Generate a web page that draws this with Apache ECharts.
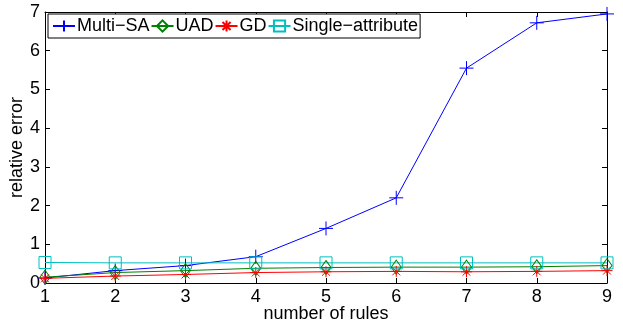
<!DOCTYPE html>
<html>
<head>
<meta charset="utf-8">
<script src="https://cdn.jsdelivr.net/npm/echarts@6/dist/echarts.min.js"></script>
<style>
  html, body { margin: 0; padding: 0; background: #fff; }
  #chart { width: 623px; height: 325px; }
</style>
</head>
<body>
<div id="chart"></div>
<script>
// rule counts on the x axis
let rules = [1, 2, 3, 4, 5, 6, 7, 8, 9];
let yTicks = [0, 1, 2, 3, 4, 5, 6, 7];

// relative error per method
let multiSA = [0.13, 0.32, 0.45, 0.68, 1.41, 2.2, 5.55, 6.72, 6.95];
let uad = [0.15, 0.27, 0.32, 0.38, 0.40, 0.41, 0.41, 0.42, 0.45];
let gd = [0.12, 0.18, 0.22, 0.27, 0.29, 0.30, 0.29, 0.30, 0.32];
let single = [0.53, 0.52, 0.52, 0.52, 0.52, 0.52, 0.52, 0.52, 0.52];

const FONT = 'Liberation Sans';

const plus = 'path://M0,-1L0,1M-1,0L1,0';
const star = 'path://M0,-1L0,1M-1,0L1,0M-0.72,-0.72L0.72,0.72M-0.72,0.72L0.72,-0.72';
const diamond = 'path://M0,-1L0.75,0L0,1L-0.75,0Z';
const square = 'path://M-1,-1L1,-1L1,1L-1,1Z';

function pairs(vals){
    return vals.map((v, i) => [rules[i], v]);
}

function makeSeries(name, vals, color, symbol, size){
    return {
        name: name,
        type: 'line',
        data: pairs(vals),
        symbol: symbol,
        symbolSize: size,
        showAllSymbol: true,
        animation: false,
        lineStyle: { color: color, width: 1 },
        itemStyle: { color: 'none', borderColor: color, borderWidth: 1 },
        emphasis: { disabled: true }
    };
}

let axisLine = { show: true, onZero: false, lineStyle: { color: '#000', width: 1 } };
let tickIn = { show: true, inside: true, length: 5, lineStyle: { color: '#000' } };
let labelStyle = { color: '#000', fontFamily: FONT, fontSize: 18 };

let chart = echarts.init(document.getElementById('chart'));
chart.setOption({
    backgroundColor: '#fff',
    animation: false,
    grid: { left: 45, right: 16, top: 12, bottom: 42, outerBoundsMode: 'none', containLabel: false },
    legend: {
        left: 48,
        top: 14,
        orient: 'horizontal',
        itemWidth: 22,
        itemHeight: 14,
        itemGap: 1,
        padding: [3, 2, 3, 4],
        borderColor: '#000',
        borderWidth: 1,
        backgroundColor: '#fff',
        textStyle: { color: '#000', fontFamily: FONT, fontSize: 18, padding: [0, 0, 0, -3] },
        data: ['Multi\u2212SA', 'UAD', 'GD', 'Single\u2212attribute']
    },
    xAxis: [{
        type: 'value',
        min: rules[0],
        max: rules[rules.length - 1],
        interval: 1,
        name: 'number of rules',
        nameLocation: 'middle',
        nameGap: 22,
        nameMoveOverlap: false,
        nameTextStyle: labelStyle,
        axisLine: axisLine,
        axisTick: tickIn,
        axisLabel: Object.assign({ margin: 5 }, labelStyle),
        splitLine: { show: false }
    }, {
        type: 'value',
        position: 'top',
        min: rules[0],
        max: rules[rules.length - 1],
        interval: 1,
        axisLine: axisLine,
        axisTick: tickIn,
        axisLabel: { show: false },
        splitLine: { show: false }
    }],
    yAxis: [{
        type: 'value',
        min: yTicks[0],
        max: yTicks[yTicks.length - 1],
        interval: 1,
        name: 'relative error',
        nameLocation: 'middle',
        nameGap: 19,
        nameMoveOverlap: false,
        nameTextStyle: labelStyle,
        axisLine: axisLine,
        axisTick: tickIn,
        axisLabel: Object.assign({ margin: 5 }, labelStyle),
        splitLine: { show: false }
    }, {
        type: 'value',
        position: 'right',
        min: yTicks[0],
        max: yTicks[yTicks.length - 1],
        interval: 1,
        axisLine: axisLine,
        axisTick: tickIn,
        axisLabel: { show: false },
        splitLine: { show: false }
    }],
    series: [
        makeSeries('Multi\u2212SA', multiSA, '#0000ff', plus, 14),
        makeSeries('UAD', uad, '#008000', diamond, [10, 14]),
        makeSeries('GD', gd, '#ff0000', star, 11),
        makeSeries('Single\u2212attribute', single, '#00bfbf', square, 12)
    ]
});
</script>
</body>
</html>
